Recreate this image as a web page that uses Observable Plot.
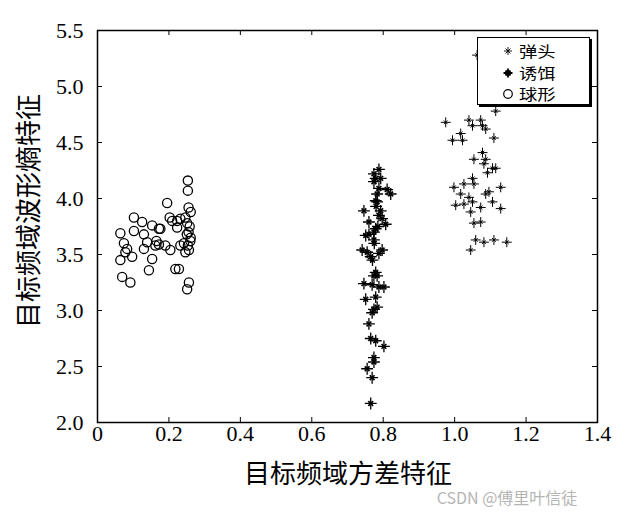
<!DOCTYPE html>
<html><head><meta charset="utf-8">
<script src="https://cdn.jsdelivr.net/npm/d3@7"></script>
<script src="https://cdn.jsdelivr.net/npm/@observablehq/plot@0.6"></script>
<style>
body{margin:0;background:#fff;}
#wrap{position:relative;width:625px;height:515px;background:#fff;}
.lbl{position:absolute;font-family:"Noto Sans CJK SC";color:#000;white-space:nowrap;line-height:1;}
#legend{position:absolute;left:477px;top:37px;width:111px;height:66px;border:1px solid #000;box-shadow:2px 2px 0 #000;background:#fff;}
.row{position:absolute;left:0;height:18px;display:flex;align-items:center;}
.row svg{margin-left:24px;}
.row span{display:inline-block;font-family:"Noto Sans CJK SC";font-size:15px;margin-left:5px;line-height:18px;transform:scaleX(1.22);transform-origin:left center;}
</style></head><body><div id="wrap"></div>
<script>
const seriesNames = ["弹头", "诱饵", "球形"];
const xTicks = [0, 0.2, 0.4, 0.6, 0.8, 1.0, 1.2, 1.4];
const yTicks = [2.0, 2.5, 3.0, 3.5, 4.0, 4.5, 5.0, 5.5];
const xTitle = "目标频域方差特征";
const yTitle = "目标频域波形熵特征";

// 弹头
const warheadPts = [[1.063,5.28],[1.115,4.78],[0.975,4.68],[1.040,4.70],[1.050,4.65],[1.073,4.70],[1.078,4.65],[1.087,4.62],[1.017,4.58],[0.994,4.52],[1.022,4.52],[1.110,4.54],[1.078,4.41],[1.054,4.35],[1.087,4.35],[1.082,4.31],[1.106,4.27],[1.115,4.27],[1.092,4.23],[1.050,4.18],[1.026,4.13],[1.054,4.13],[1.129,4.10],[0.998,4.10],[1.017,4.04],[1.096,4.06],[1.087,4.04],[1.040,4.01],[1.106,3.97],[1.003,3.94],[1.026,3.95],[1.050,3.97],[1.045,3.88],[1.073,3.92],[1.129,3.91],[1.054,3.78],[1.073,3.79],[1.059,3.63],[1.082,3.61],[1.110,3.63],[1.146,3.61],[1.045,3.54]];
// 诱饵
const decoyPts = [[0.788,4.26],[0.774,4.22],[0.779,4.18],[0.793,4.18],[0.774,4.15],[0.788,4.09],[0.811,4.08],[0.821,4.04],[0.783,4.04],[0.779,3.98],[0.783,3.97],[0.746,3.89],[0.793,3.89],[0.788,3.85],[0.797,3.82],[0.760,3.79],[0.807,3.77],[0.779,3.73],[0.774,3.70],[0.751,3.67],[0.760,3.68],[0.774,3.63],[0.741,3.54],[0.755,3.52],[0.797,3.54],[0.765,3.48],[0.788,3.51],[0.779,3.34],[0.783,3.31],[0.774,3.31],[0.746,3.24],[0.769,3.23],[0.788,3.21],[0.802,3.21],[0.751,3.10],[0.779,3.12],[0.774,3.01],[0.769,2.98],[0.783,3.03],[0.760,2.88],[0.765,2.75],[0.779,2.73],[0.802,2.68],[0.774,2.58],[0.774,2.54],[0.755,2.48],[0.769,2.40],[0.765,2.17],[0.780,3.93],[0.775,3.60],[0.785,3.75],[0.770,3.45]];
// 球形
const spherePts = [[0.253,4.16],[0.253,4.07],[0.195,3.96],[0.255,3.92],[0.261,3.88],[0.102,3.83],[0.202,3.83],[0.209,3.80],[0.223,3.80],[0.232,3.82],[0.246,3.83],[0.125,3.79],[0.153,3.76],[0.172,3.73],[0.064,3.69],[0.102,3.71],[0.130,3.68],[0.176,3.73],[0.223,3.74],[0.251,3.78],[0.255,3.70],[0.261,3.65],[0.139,3.61],[0.162,3.58],[0.172,3.59],[0.190,3.58],[0.074,3.60],[0.083,3.55],[0.078,3.52],[0.130,3.55],[0.204,3.54],[0.232,3.58],[0.242,3.60],[0.253,3.58],[0.097,3.48],[0.153,3.46],[0.246,3.52],[0.256,3.54],[0.064,3.45],[0.144,3.36],[0.218,3.37],[0.228,3.37],[0.069,3.30],[0.092,3.25],[0.256,3.25],[0.251,3.19],[0.258,3.75],[0.260,3.62],[0.250,3.68],[0.165,3.62]];

const W = 625, H = 515;
const mL = 97, mR = 28, mT = 30, mB = 93;
const fw = W - mL - mR, fh = H - mT - mB;
const tick = 5;

const px = d => d[0], py = d => d[1];
const starMarks = (data, big, sw, tsw, tr) => [
  Plot.dot(data, {x: px, y: py, symbol: "plus", r: big, stroke: "black", strokeWidth: sw}),
  Plot.dot(data, {x: px, y: py, symbol: "times", r: tr, stroke: "black", strokeWidth: tsw})
];

const chart = Plot.plot({
  width: W, height: H,
  marginLeft: mL, marginRight: mR, marginTop: mT, marginBottom: mB,
  style: {fontFamily: "'Liberation Serif', 'Times New Roman', serif", fontSize: "22px", color: "black", background: "white"},
  x: {domain: [0, 1.4]},
  y: {domain: [2, 5.5]},
  marks: [
    Plot.tickX(xTicks, {x: d => d, insetTop: fh - tick, stroke: "black"}),
    Plot.tickX(xTicks, {x: d => d, insetBottom: fh - tick, stroke: "black"}),
    Plot.tickY(yTicks, {y: d => d, insetRight: fw - tick, stroke: "black"}),
    Plot.tickY(yTicks, {y: d => d, insetLeft: fw - tick, stroke: "black"}),
    Plot.axisX(xTicks, {tickSize: 0, tickPadding: 3, fontSize: 22, label: null, tickFormat: d => d === 0 ? "0" : d.toFixed(1)}),
    Plot.axisY(yTicks, {tickSize: 0, tickPadding: 14, fontSize: 22, label: null, tickFormat: d => d.toFixed(1)}),
    Plot.dot(spherePts, {x: px, y: py, r: 4.6, stroke: "black", strokeWidth: 1.3, fill: "none"}),
    ...starMarks(decoyPts, 3.9, 1.3, 1.6, 2.3),
    ...starMarks(warheadPts, 3.3, 1, 1, 1.8),
    Plot.frame({stroke: "black", strokeWidth: 1.5})
  ]
});

const wrap = document.getElementById("wrap");
chart.style.position = "absolute";
chart.style.left = "0"; chart.style.top = "0";
wrap.appendChild(chart);

function addLabel(text, x, y, size, rot, extra) {
  const d = document.createElement("div");
  d.className = "lbl";
  d.textContent = text;
  d.style.fontSize = size + "px";
  d.style.left = x + "px"; d.style.top = y + "px";
  d.style.transform = "translate(-50%,-50%)" + (rot ? " rotate(" + rot + "deg)" : "");
  if (extra) Object.assign(d.style, extra);
  wrap.appendChild(d);
}
addLabel(xTitle, 348, 472, 26, 0);
addLabel(yTitle, 27, 211, 26, -90);
addLabel("CSDN @傅里叶信徒", 507, 497, 16, 0, {color: "#b5b5b5", fontFamily: "'Noto Sans CJK SC', sans-serif"});

// legend
const lg = document.createElement("div");
lg.id = "legend";
const icons = [
  '<svg width="12" height="12" viewBox="-6 -6 12 12"><path d="M-4,0H4M0,-4V4M-2.5,-2.5L2.5,2.5M-2.5,2.5L2.5,-2.5" stroke="#000" stroke-width="0.9" fill="none"/></svg>',
  '<svg width="12" height="12" viewBox="-6 -6 12 12"><path d="M-4.5,0H4.5M0,-4.5V4.5M-2.5,-2.5L2.5,2.5M-2.5,2.5L2.5,-2.5" stroke="#000" stroke-width="1.8" fill="none"/></svg>',
  '<svg width="12" height="12" viewBox="-6 -6 12 12"><circle r="4.3" stroke="#000" stroke-width="1.2" fill="none"/></svg>'
];
const rowTops = [4, 25.5, 47];
seriesNames.forEach((n, i) => {
  const r = document.createElement("div");
  r.className = "row";
  r.style.top = rowTops[i] + "px";
  r.innerHTML = icons[i] + "<span>" + n + "</span>";
  lg.appendChild(r);
});
wrap.appendChild(lg);
</script></body></html>
